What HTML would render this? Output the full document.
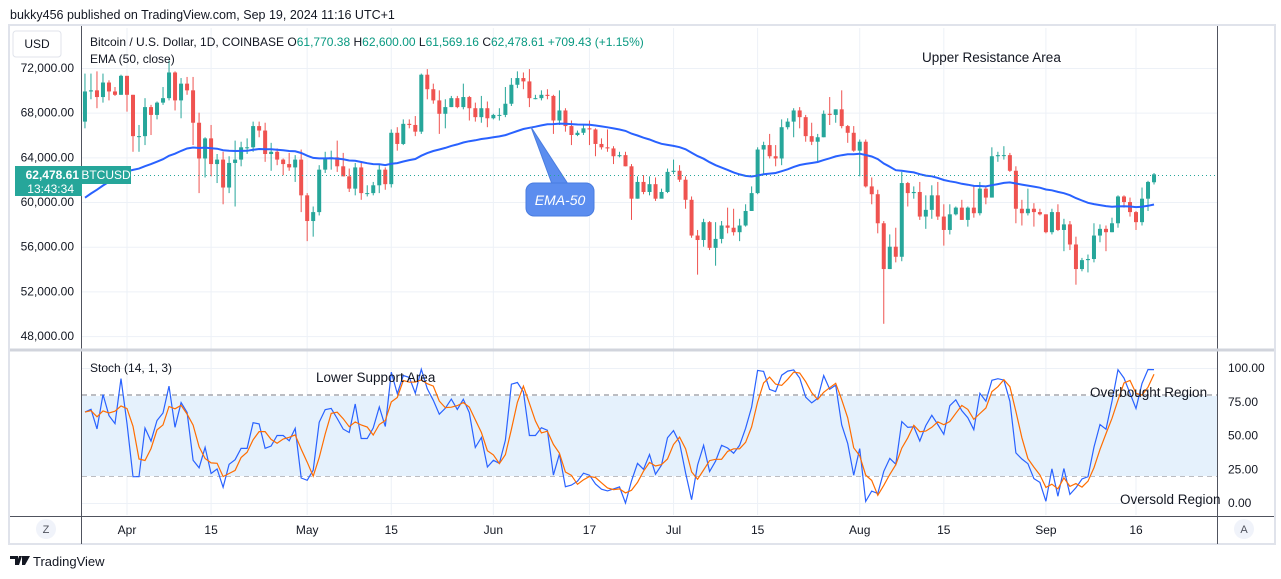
<!DOCTYPE html>
<html><head><meta charset="utf-8"><style>
html,body{margin:0;padding:0;background:#fff;width:1281px;height:579px;overflow:hidden;font-family:"Liberation Sans",sans-serif}
svg{display:block}
</style></head><body>
<svg id="c" width="1281" height="579" xmlns="http://www.w3.org/2000/svg">
<rect x="9" y="25" width="1266" height="519" fill="#fff" stroke="#e0e3eb" stroke-width="2"/>
<g id="grid"></g>
<rect x="82" y="396" width="1135" height="80" fill="#e5f1fc"/>
<g id="cand"></g>
<g id="ind"></g>
<g id="txt"></g>
<line x1="81.5" y1="26" x2="81.5" y2="544" stroke="#50535e"/>
<line x1="1217.5" y1="26" x2="1217.5" y2="544" stroke="#50535e"/>
<line x1="10" y1="350" x2="1274" y2="350" stroke="#d1d4dc" stroke-width="3"/>
<line x1="10" y1="516.5" x2="1274" y2="516.5" stroke="#50535e"/>
<text x="10" y="19" font-size="12.5" fill="#131722">bukky456 published on TradingView.com, Sep 19, 2024 11:16 UTC+1</text>
<rect x="13" y="31" width="48" height="26" rx="3" fill="#fff" stroke="#e0e3eb"/>
<text x="37" y="48" font-size="12" fill="#131722" text-anchor="middle">USD</text>
<text x="90" y="46" font-size="12" fill="#131722">Bitcoin / U.S. Dollar, 1D, COINBASE <tspan fill="#131722">O</tspan><tspan fill="#089981">61,770.38</tspan> <tspan fill="#131722">H</tspan><tspan fill="#089981">62,600.00</tspan> <tspan fill="#131722">L</tspan><tspan fill="#089981">61,569.16</tspan> <tspan fill="#131722">C</tspan><tspan fill="#089981">62,478.61 +709.43 (+1.15%)</tspan></text>
<text x="90" y="63" font-size="12" fill="#131722">EMA (50, close)</text>
<text x="90" y="372" font-size="12" fill="#131722">Stoch (14, 1, 3)</text>
<text x="922" y="62" font-size="13.5" fill="#131722">Upper Resistance Area</text>
<text x="316" y="382" font-size="13.5" fill="#131722">Lower Support Area</text>
<text x="1090" y="397" font-size="13.5" fill="#131722">Overbought Region</text>
<text x="1120" y="504" font-size="13.5" fill="#131722">Oversold Region</text>
<g>
<path d="M531,127 L552,184 L568,184 Z" fill="#5b8def" stroke="#4a7de0"/>
<rect x="526" y="183" width="68" height="33" rx="8" fill="#5b8def" stroke="#4a7de0"/>
<text x="560" y="205" font-size="14" fill="#fff" font-style="italic" text-anchor="middle">EMA-50</text>
</g>
<line x1="82" y1="175.5" x2="1217" y2="175.5" stroke="#26a69a" stroke-dasharray="1,3"/>
<rect x="15" y="166" width="67" height="30" fill="#26a69a"/>
<text x="79" y="179" font-size="12" fill="#fff" text-anchor="end" font-weight="bold">62,478.61</text>
<text x="74" y="193" font-size="12" fill="#fff" text-anchor="end">13:43:34</text>
<rect x="82" y="166" width="49" height="18" fill="#26a69a"/>
<text x="106" y="179" font-size="12" fill="#fff" text-anchor="middle">BTCUSD</text>
<circle cx="46" cy="529" r="10" fill="#f0f3fa"/>
<text x="46" y="533" font-size="11" fill="#50535e" text-anchor="middle">Z</text>
<circle cx="1244" cy="529" r="10" fill="#f0f3fa"/>
<text x="1244" y="533" font-size="11" fill="#50535e" text-anchor="middle">A</text>
<g>
<path d="M10,556 h8 v9 h-3 v-6 h-5 Z M19,556 h3 l-3,9 h-3 Z M22,556 h8 l-5,9 h-3 Z" fill="#131722"/>
<text x="33" y="566" font-size="13" fill="#131722">TradingView</text>
</g>
</svg>
<script>
const closes=[69.9,70.0,69.4,70.7,69.9,69.6,71.3,
69.6,65.9,65.9,68.5,67.8,68.9,69.3,71.6,69.1,70.6,70.0,67.1,63.9,65.7,63.4,63.8,61.3,63.5,63.8,64.9,64.9,66.8,66.4,64.3,64.5,63.8,63.4,63.1,63.8,60.6,
58.3,59.1,62.9,63.9,64.0,63.2,62.3,61.2,63.1,60.8,60.8,61.5,62.9,61.6,66.2,65.2,67.0,66.9,66.3,71.4,70.1,69.1,67.9,68.5,69.3,68.5,69.4,68.4,67.6,68.4,67.5,
67.8,67.8,68.8,70.5,71.1,70.8,69.3,69.3,69.6,69.5,67.3,68.2,66.8,66.0,66.2,66.6,66.5,65.2,64.9,64.8,64.1,64.2,63.2,60.3,61.8,60.9,61.6,60.3,60.9,62.7,
62.8,62.0,60.2,57.0,56.6,58.2,55.9,56.7,57.9,57.7,57.3,57.9,59.2,60.8,64.7,65.1,64.1,63.9,66.7,67.2,68.2,67.6,65.9,65.4,65.8,67.9,67.8,68.3,66.8,66.2,64.6,
65.4,61.4,60.7,58.1,54.0,56.0,55.1,61.7,60.8,60.9,58.7,59.3,60.6,58.7,57.5,58.9,59.5,58.4,59.5,59.0,61.2,60.4,64.1,64.2,64.2,62.8,59.4,59.0,59.4,59.1,58.9,
57.3,59.1,57.5,58.0,56.2,54.0,54.8,54.9,57.0,57.6,57.3,58.1,60.5,60.0,59.1,58.2,60.3,61.8,62.48];
const highs=[71.5,71.5,71.7,71.5,70.9,70.3,71.4,
71.3,69.6,66.9,69.3,68.7,69.0,70.3,72.7,71.7,71.1,71.2,71.2,68.0,65.8,66.9,64.3,64.5,64.1,65.5,65.4,65.7,67.2,67.2,67.1,65.3,64.8,63.9,64.4,64.2,64.7,
60.8,59.6,63.3,64.5,64.6,65.5,64.4,63.0,63.5,63.5,61.5,61.8,63.4,63.1,66.5,66.7,67.4,67.4,67.7,71.5,71.9,70.6,70.0,69.2,69.5,69.5,70.6,69.5,68.9,69.5,69.0,
67.9,68.4,70.3,71.1,71.7,71.6,71.9,69.6,70.0,70.1,69.6,70.0,68.4,67.3,66.4,66.9,67.3,66.6,65.7,66.5,65.0,64.5,64.5,63.4,62.3,62.4,62.3,62.2,61.2,63.0,
63.8,63.3,62.3,60.5,57.5,58.5,58.3,58.2,58.3,59.5,59.4,58.5,59.8,61.4,64.9,65.4,66.1,65.1,67.4,67.5,68.4,68.5,67.8,67.1,66.1,68.2,69.4,68.3,70.0,66.9,66.8,
65.6,65.6,62.2,61.1,58.3,57.1,57.7,62.7,61.8,61.4,61.8,60.6,61.5,61.8,59.8,59.8,59.6,60.2,59.6,61.4,61.8,61.4,64.9,64.5,65.0,64.4,63.2,60.2,61.2,59.9,59.4,
58.9,59.4,59.8,58.5,58.3,56.9,55.0,55.3,58.1,58.0,57.9,58.6,60.6,60.6,60.4,59.2,61.3,61.9,62.6];
const lows=[66.6,69.2,68.4,68.9,69.1,69.5,69.6,
68.1,64.5,64.5,65.1,66.0,67.4,68.7,69.1,68.2,67.5,69.6,65.1,60.8,62.2,62.3,61.7,59.8,60.8,59.6,63.2,64.3,64.5,65.8,63.6,62.8,63.3,62.4,62.8,61.8,59.1,
56.5,56.9,58.8,62.6,62.9,62.7,62.3,60.9,60.6,60.2,60.5,60.6,60.8,61.1,61.3,64.6,65.1,66.6,65.9,66.1,69.2,68.8,66.1,66.6,68.5,68.4,68.3,67.3,67.2,67.1,66.7,
67.4,67.3,67.6,68.6,70.2,70.1,68.5,69.2,69.1,69.2,66.1,66.9,66.3,65.1,65.9,66.0,65.1,64.1,64.7,64.5,63.4,64.0,63.2,58.4,60.3,60.7,60.6,60.1,60.4,60.8,
62.5,61.8,59.4,56.8,53.5,56.0,55.7,54.3,56.3,57.2,57.0,56.5,57.8,59.2,60.7,62.4,63.9,63.2,63.3,66.5,65.8,66.6,65.4,65.1,63.5,65.8,66.9,67.1,66.6,65.3,64.5,
62.3,61.3,59.8,57.2,49.1,54.0,54.6,54.7,59.6,60.3,58.4,57.6,58.5,58.4,56.1,57.1,58.8,58.4,57.8,58.6,58.8,59.8,60.4,63.6,63.8,62.7,58.1,57.9,58.8,57.8,58.8,
57.2,57.1,57.4,55.6,55.7,52.6,53.8,53.7,54.6,56.4,55.6,57.3,57.7,59.5,58.7,57.5,57.9,59.2,61.57];
const firstOpen=67.2, lastOpen=61.77, emaSeed=60.0;
const priceTicks=[72,68,64,60,56,52,48];
const stochTicks=[100,75,50,25,0];
const timeLabels=["Apr","15","May","15","Jun","17","Jul","15","Aug","15","Sep","16"];
const timeLabelDays=[0,14,30,44,61,77,91,105,122,136,153,168];

const NS="http://www.w3.org/2000/svg";
function mk(tag,attrs,parent){const e=document.createElementNS(NS,tag);for(const k in attrs)e.setAttribute(k,attrs[k]);parent.appendChild(e);return e;}
const px=d=>127+d*6.006;          // d: days from Apr 1
const xi=i=>px(i-7);             // candle index -> x (index 0 = Mar 25)
const py=v=>68+(72-v)*11.17;      // price in thousands -> y
const sy=v=>503-v*1.35;          // stoch value -> y
const grid=document.getElementById('grid'),cand=document.getElementById('cand'),ind=document.getElementById('ind'),txt=document.getElementById('txt');

priceTicks.forEach(p=>{
  const l=mk('line',{x1:82,x2:1217,y1:py(p)+0.5,y2:py(p)+0.5,stroke:'#edf1f7'},grid);
  
  
  const t=mk('text',{x:74,y:py(p)+4,'font-size':12,fill:'#131722','text-anchor':'end'},txt);
  t.textContent=(p*1000).toLocaleString('en-US')+'.00';
  
  
});
stochTicks.forEach(s=>{
  const l=mk('line',{x1:82,x2:1217,y1:sy(s)+0.5,y2:sy(s)+0.5,stroke:'#edf1f7'},grid);
  
  
  const t=mk('text',{x:1228,y:sy(s)+4,'font-size':12,fill:'#131722'},txt);
  t.textContent=s.toFixed(2);
  
  
});
timeLabels.forEach((lab,k)=>{
  const x=px(timeLabelDays[k]);
  const l=mk('line',{x1:x,x2:x,y1:28,y2:515,stroke:'#edf1f7'},grid);
  
  
  const t=mk('text',{x:x,y:534,'font-size':12,fill:'#131722','text-anchor':'middle'},txt);
  t.textContent=lab;
  
  
});
[80,50,20].forEach(s=>{
  const l=mk('line',{x1:82,x2:1217,y1:sy(s),y2:sy(s),stroke:'#787b86','stroke-dasharray':'5,4'},grid);
  
  
});

// candles
closes.forEach((c,i)=>{
  const o=i===closes.length-1?lastOpen:(i===0?firstOpen:closes[i-1]);
  const up=c>=o, col=up?'#26a69a':'#ef5350', x=xi(i);
  const w=mk('line',{x1:x,x2:x,y1:py(highs[i]),y2:py(lows[i]),stroke:col},cand);
  
  
  const top=py(Math.max(o,c)),bot=py(Math.min(o,c));
  const b=mk('rect',{x:x-2,y:top,width:4,height:Math.max(1,bot-top),fill:col},cand);
  
  
});

// EMA 50
let e=emaSeed;const a=2/51;const ep=[];
closes.forEach((c,i)=>{e=e+a*(c-e);ep.push(xi(i).toFixed(1)+','+py(e).toFixed(1));});
const ema=mk('polyline',{points:ep.join(' '),fill:'none',stroke:'#2962ff','stroke-width':2},ind);



// Stochastic 14,1,3
const K=[];
closes.forEach((c,i)=>{let hh=-1e9,ll=1e9;for(let j=Math.max(0,i-13);j<=i;j++){hh=Math.max(hh,highs[j]);ll=Math.min(ll,lows[j]);}K.push(hh>ll?100*(c-ll)/(hh-ll):50);});
const D=K.map((v,i)=>{const s=K.slice(Math.max(0,i-2),i+1);return s.reduce((p,q)=>p+q,0)/s.length;});
const kl=mk('polyline',{points:K.map((v,i)=>xi(i).toFixed(1)+','+sy(v).toFixed(1)).join(' '),fill:'none',stroke:'#2962ff','stroke-width':1.2},ind);


const dl=mk('polyline',{points:D.map((v,i)=>xi(i).toFixed(1)+','+sy(v).toFixed(1)).join(' '),fill:'none',stroke:'#ff6d00','stroke-width':1.2},ind);


</script>
</body></html>
